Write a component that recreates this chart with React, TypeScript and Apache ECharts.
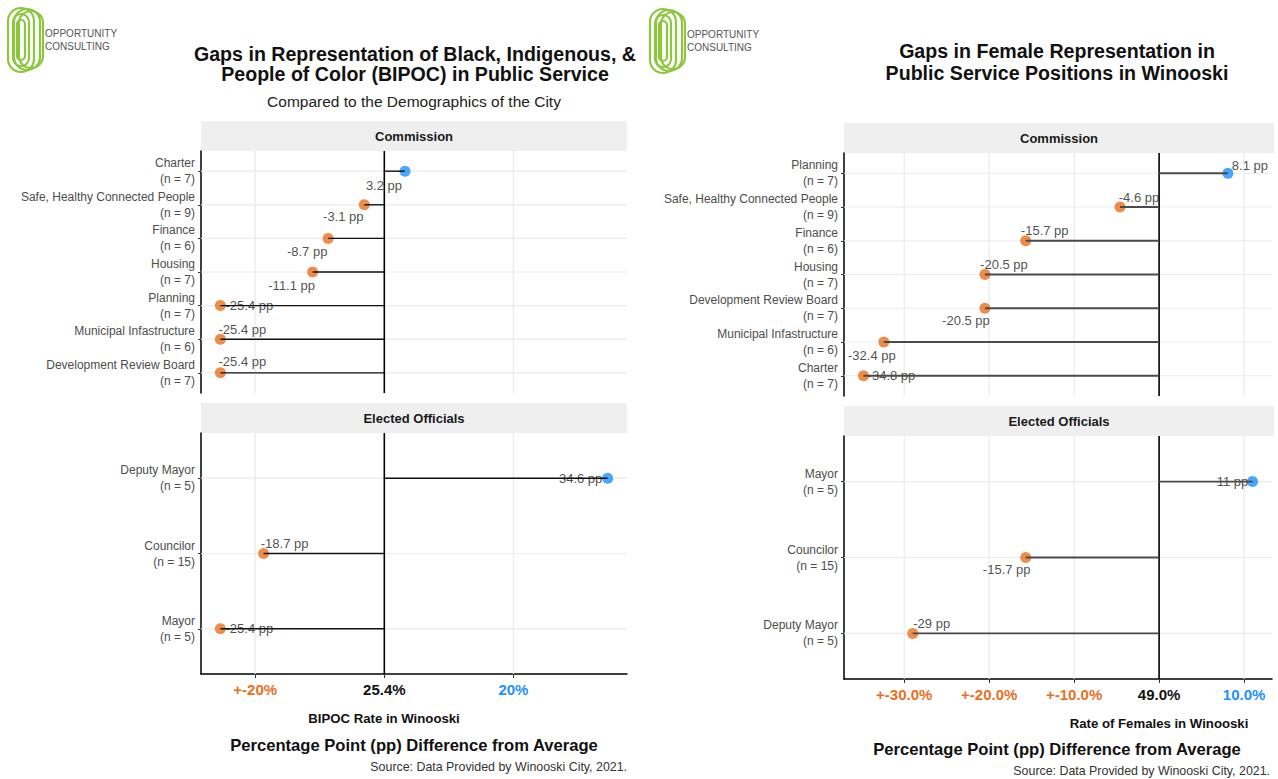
import React, { useEffect, useRef } from "react";
import * as echarts from "echarts";

// ---------- Data: BIPOC chart (left) ----------
const bipocCommissionNames = [
  "Charter",
  "Safe, Healthy Connected People",
  "Finance",
  "Housing",
  "Planning",
  "Municipal Infastructure",
  "Development Review Board",
];
const bipocCommissionN = [7, 9, 6, 7, 7, 6, 7];
const bipocCommissionGap = [3.2, -3.1, -8.7, -11.1, -25.4, -25.4, -25.4];
const bipocElectedNames = ["Deputy Mayor", "Councilor", "Mayor"];
const bipocElectedN = [5, 15, 5];
const bipocElectedGap = [34.6, -18.7, -25.4];
const bipocTicks = [-20, 0, 20];
const bipocBaseline = "25.4%";

// ---------- Data: Female chart (right) ----------
const femaleCommissionNames = [
  "Planning",
  "Safe, Healthy Connected People",
  "Finance",
  "Housing",
  "Development Review Board",
  "Municipal Infastructure",
  "Charter",
];
const femaleCommissionN = [7, 9, 6, 7, 7, 6, 7];
const femaleCommissionGap = [8.1, -4.6, -15.7, -20.5, -20.5, -32.4, -34.8];
const femaleElectedNames = ["Mayor", "Councilor", "Deputy Mayor"];
const femaleElectedN = [5, 15, 5];
const femaleElectedGap = [11, -15.7, -29];
const femaleTicks = [-30, -20, -10, 0, 10];
const femaleBaseline = "49.0%";

// ---------- Styles ----------
const ORANGE = "#E8701E";
const BLUE = "#1E90FF";
const FONT = "'Liberation Sans', Arial, sans-serif";

const bipocCommissionLabelOffsets = [[-21, 14], [-21, 12], [-21, 13], [-21, 13], [29, 0], [22, -10], [22, -11]];
const bipocElectedLabelOffsets = [[-27, 0], [21, -10], [29, 0]];
const femaleCommissionLabelOffsets = [[22, -8], [19, -10], [19, -10], [19, -10], [-19, 12], [-12, 13], [28, 0]];
const femaleElectedLabelOffsets = [[-20, 0], [-19, 12], [19, -10]];

function expandRange(values: number[]) {
  const lo = Math.min(...values);
  const hi = Math.max(...values);
  const pad = (hi - lo) * 0.05;
  return [lo - pad, hi + pad];
}

type PanelCfg = {
  gridIndex: number;
  names: string[];
  ns: number[];
  gaps: number[];
  ticks: number[];
  decimals: number;
  baseline: string;
  xMin: number;
  xMax: number;
  bottom: boolean;
  offsets: number[][];
  segColor: string;
  segWidth: number;
};

function buildPanel(c: PanelCfg) {
  const idx = c.names.map((_, i) => i);
  const fmtTick = (v: number) => {
    if (v === 0) return `{z|${c.baseline}}`;
    const s = v.toFixed(c.decimals) + "%";
    return v < 0 ? `{n|+${s}}` : `{p|${s}}`;
  };
  const tickFont = { fontWeight: "bold", fontSize: 15, fontFamily: FONT };
  const xAxis = {
    type: "value",
    gridIndex: c.gridIndex,
    min: c.xMin,
    max: c.xMax,
    axisLine: { show: c.bottom, onZero: false, lineStyle: { color: "#000", width: 1.5 } },
    axisTick: { show: c.bottom, customValues: c.ticks, length: 4, lineStyle: { color: "#333" } },
    axisLabel: {
      show: c.bottom,
      customValues: c.ticks,
      margin: 8,
      formatter: fmtTick,
      rich: {
        n: { ...tickFont, color: ORANGE },
        z: { ...tickFont, color: "#111" },
        p: { ...tickFont, color: BLUE },
      },
    },
    splitLine: { show: false },
  };
  const yAxis = {
    type: "value",
    gridIndex: c.gridIndex,
    min: -0.6,
    max: c.names.length - 0.4,
    inverse: true,
    axisLine: { show: true, onZero: false, lineStyle: { color: "#000", width: 1.5 } },
    axisTick: { show: true, customValues: idx, length: 3, lineStyle: { color: "#333" } },
    axisLabel: {
      customValues: idx,
      margin: 6,
      fontSize: 12,
      lineHeight: 16,
      fontFamily: FONT,
      color: "#4d4d4d",
      align: "right",
      formatter: (v: number) => `${c.names[v]}\n(n = ${c.ns[v]})`,
    },
    splitLine: { show: false },
  };
  const base = { xAxisIndex: c.gridIndex, yAxisIndex: c.gridIndex, silent: true };
  const series: any[] = [
    {
      ...base,
      type: "custom",
      z: 1,
      data: c.ticks.filter((t) => t !== 0).map((t) => [t, 0]),
      renderItem: (params: any, api: any) => {
        const x = api.coord([api.value(0), 0])[0];
        const cs = params.coordSys;
        return {
          type: "line",
          shape: { x1: x, y1: cs.y, x2: x, y2: cs.y + cs.height },
          style: { stroke: "#ebebeb", lineWidth: 1.2 },
        };
      },
    },
    {
      ...base,
      type: "custom",
      z: 1,
      data: idx.map((i) => [0, i]),
      renderItem: (params: any, api: any) => {
        const y = api.coord([0, api.value(1)])[1];
        const cs = params.coordSys;
        return {
          type: "line",
          shape: { x1: cs.x, y1: y, x2: cs.x + cs.width, y2: y },
          style: { stroke: "#ebebeb", lineWidth: 1.2 },
        };
      },
    },
    {
      ...base,
      type: "custom",
      z: 2,
      data: [[0, 0]],
      renderItem: (params: any, api: any) => {
        const x = api.coord([api.value(0), 0])[0];
        const cs = params.coordSys;
        return {
          type: "line",
          shape: { x1: x, y1: cs.y, x2: x, y2: cs.y + cs.height },
          style: { stroke: "#000", lineWidth: 1.6 },
        };
      },
    },
    {
      ...base,
      type: "scatter",
      z: 3,
      symbolSize: 11,
      data: c.gaps.map((v, i) => ({
        value: [v, i],
        itemStyle: { color: v >= 0 ? BLUE : ORANGE },
        label: { offset: c.offsets[i] },
      })),
      label: {
        show: true,
        position: "inside",
        formatter: (p: any) => `${p.value[0]} pp`,
        fontSize: 13,
        fontFamily: FONT,
        color: "#222",
      },
    },
    {
      ...base,
      type: "custom",
      z: 4,
      data: c.gaps.map((v, i) => [v, i]),
      renderItem: (params: any, api: any) => {
        const i = api.value(1);
        const p0 = api.coord([0, i]);
        const p1 = api.coord([api.value(0), i]);
        return {
          type: "line",
          shape: { x1: p0[0], y1: p0[1], x2: p1[0], y2: p1[1] },
          style: { stroke: c.segColor, lineWidth: c.segWidth },
        };
      },
    },
  ];
  return { xAxis, yAxis, series };
}

function text(x: number, y: number, t: string, size: number, weight: string, align: string, color = "#111") {
  return {
    type: "text",
    x,
    y,
    silent: true,
    style: {
      text: t,
      fontSize: size,
      fontWeight: weight,
      fontFamily: FONT,
      fill: color,
      align,
      verticalAlign: "middle",
    },
  };
}

function logo(x: number, y: number) {
  const g = "#8DC63F";
  const ring = (dx: number, dy: number, w: number, h: number) => ({
    type: "rect",
    shape: { x: dx, y: dy, width: w, height: h, r: w / 2 },
    style: { fill: "none", stroke: g, lineWidth: 2.2 },
  });
  return {
    type: "group",
    x,
    y,
    silent: true,
    children: [
      ring(0, 0, 26, 64),
      ring(5, 6, 16, 52),
      ring(9, 12, 8, 40),
      ring(6, 1, 26, 61),
      ring(11, 3, 24, 57),
      {
        type: "text",
        x: 37,
        y: 25,
        style: { text: "OPPORTUNITY", fontSize: 10, fontFamily: FONT, fill: "#555", verticalAlign: "middle" },
      },
      {
        type: "text",
        x: 37,
        y: 38,
        style: { text: "CONSULTING", fontSize: 10, fontFamily: FONT, fill: "#555", verticalAlign: "middle" },
      },
    ],
  };
}

function strip(x: number, y: number, w: number, label: string) {
  return [
    { type: "rect", silent: true, shape: { x, y, width: w, height: 30 }, style: { fill: "#efefef" } },
    text(x + w / 2, y + 15, label, 13, "bold", "center", "#1a1a1a"),
  ];
}

export default function App() {
  const ref = useRef<HTMLDivElement>(null);
  useEffect(() => {
    document.body.style.margin = "0";
    const chart = echarts.init(ref.current!, null, { renderer: "svg" });
    const [bMin, bMax] = expandRange([...bipocCommissionGap, ...bipocElectedGap]);
    const [fMin, fMax] = expandRange([...femaleCommissionGap, ...femaleElectedGap]);
    const panels = [
      buildPanel({
        gridIndex: 0, names: bipocCommissionNames, ns: bipocCommissionN, gaps: bipocCommissionGap,
        ticks: bipocTicks, decimals: 0, baseline: bipocBaseline, xMin: bMin, xMax: bMax, bottom: false,
        offsets: bipocCommissionLabelOffsets, segColor: "#111", segWidth: 1.4,
      }),
      buildPanel({
        gridIndex: 1, names: bipocElectedNames, ns: bipocElectedN, gaps: bipocElectedGap,
        ticks: bipocTicks, decimals: 0, baseline: bipocBaseline, xMin: bMin, xMax: bMax, bottom: true,
        offsets: bipocElectedLabelOffsets, segColor: "#111", segWidth: 1.4,
      }),
      buildPanel({
        gridIndex: 2, names: femaleCommissionNames, ns: femaleCommissionN, gaps: femaleCommissionGap,
        ticks: femaleTicks, decimals: 1, baseline: femaleBaseline, xMin: fMin, xMax: fMax, bottom: false,
        offsets: femaleCommissionLabelOffsets, segColor: "#4a4a4a", segWidth: 1.8,
      }),
      buildPanel({
        gridIndex: 3, names: femaleElectedNames, ns: femaleElectedN, gaps: femaleElectedGap,
        ticks: femaleTicks, decimals: 1, baseline: femaleBaseline, xMin: fMin, xMax: fMax, bottom: true,
        offsets: femaleElectedLabelOffsets, segColor: "#4a4a4a", segWidth: 1.8,
      }),
    ];
    const option: any = {
      animation: false,
      backgroundColor: "#fff",
      grid: [
        { left: 201, top: 151, width: 426, height: 242 },
        { left: 201, top: 433, width: 426, height: 241 },
        { left: 844, top: 153, width: 428, height: 243 },
        { left: 844, top: 436, width: 428, height: 243 },
      ],
      xAxis: panels.map((p) => p.xAxis),
      yAxis: panels.map((p) => p.yAxis),
      series: panels.flatMap((p) => p.series),
      graphic: [
        logo(8, 8),
        logo(650, 9),
        text(415, 54, "Gaps in Representation of Black, Indigenous, &", 19.6, "bold", "center"),
        text(415, 74, "People of Color (BIPOC) in Public Service", 19.6, "bold", "center"),
        text(414, 101, "Compared to the Demographics of the City", 15.5, "normal", "center", "#222"),
        text(1057, 51, "Gaps in Female Representation in", 19.6, "bold", "center"),
        text(1057, 73, "Public Service Positions in Winooski", 19.6, "bold", "center"),
        ...strip(201, 121, 426, "Commission"),
        ...strip(201, 403, 426, "Elected Officials"),
        ...strip(844, 123, 430, "Commission"),
        ...strip(844, 406, 430, "Elected Officials"),
        text(384, 718, "BIPOC Rate in Winooski", 13.2, "bold", "center"),
        text(1159, 723, "Rate of Females in Winooski", 13.2, "bold", "center"),
        text(414, 745, "Percentage Point (pp) Difference from Average", 16.6, "bold", "center"),
        text(1057, 749, "Percentage Point (pp) Difference from Average", 16.6, "bold", "center"),
        text(627, 767, "Source: Data Provided by Winooski City, 2021.", 12.4, "normal", "right", "#333"),
        text(1270, 771, "Source: Data Provided by Winooski City, 2021.", 12.4, "normal", "right", "#333"),
      ],
    };
    chart.setOption(option);
    return () => chart.dispose();
  }, []);
  return <div ref={ref} style={{ width: 1278, height: 779, background: "#fff" }} />;
}
